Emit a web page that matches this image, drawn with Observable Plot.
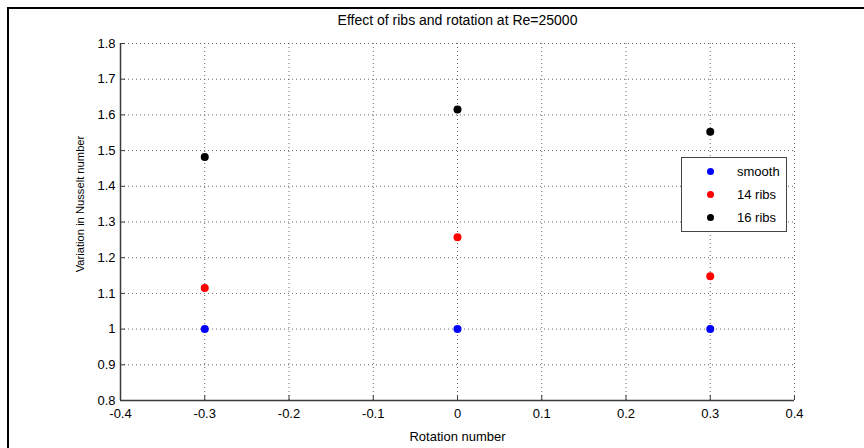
<!DOCTYPE html>
<html><head><meta charset="utf-8">
<script src="https://cdn.jsdelivr.net/npm/d3@7"></script>
<script src="https://cdn.jsdelivr.net/npm/@observablehq/plot@0.6"></script>
<style>
body{margin:0;background:#fff;}
#wrap{position:relative;width:864px;height:448px;overflow:hidden;font-family:"Liberation Sans",Arial,sans-serif;background:#fff;}
#wrap svg{position:absolute;left:0;top:0;}
#frame{position:absolute;left:7px;top:7px;width:900px;height:500px;border-top:2px solid #000;border-left:2px solid #000;}
#legend{position:absolute;left:681px;top:157px;width:104px;height:73px;border:1.5px solid #444;background:#fff;font-size:13px;color:#000;}
.row{position:absolute;left:0;height:15px;line-height:15px;}
.dot{position:absolute;left:25px;top:4px;width:7px;height:7px;border-radius:50%;}
.lab{position:absolute;left:55px;top:0;white-space:nowrap;}
</style></head>
<body><div id="wrap"></div>
<script>
const rotation = [-0.3, 0, 0.3];
const smooth = [1.0, 1.0, 1.0];
const ribs14 = [1.115, 1.257, 1.148];
const ribs16 = [1.482, 1.615, 1.553];
const seriesNames = ["smooth", "14 ribs", "16 ribs"];
const seriesColors = ["#0000ff", "#ff0000", "#000000"];
const xTicks = [-0.4, -0.3, -0.2, -0.1, 0, 0.1, 0.2, 0.3, 0.4];
const xTickLabels = ["-0.4", "-0.3", "-0.2", "-0.1", "0", "0.1", "0.2", "0.3", "0.4"];
const yTicks = [0.8, 0.9, 1.0, 1.1, 1.2, 1.3, 1.4, 1.5, 1.6, 1.7, 1.8];
const yTickLabels = ["0.8", "0.9", "1", "1.1", "1.2", "1.3", "1.4", "1.5", "1.6", "1.7", "1.8"];
const titleText = "Effect of ribs and rotation at Re=25000";
const xLabel = "Rotation number";
const yLabel = "Variation in Nusselt number";

const seriesValues = [smooth, ribs14, ribs16];
const points = [];
seriesValues.forEach((vals, s) => vals.forEach((v, i) => points.push({x: rotation[i], y: v, series: seriesNames[s]})));

const axisColor = "#3a3a3a";
const gridStyle = {stroke: "#555", strokeOpacity: 0.9, strokeDasharray: "1,3", strokeWidth: 1};

const chart = Plot.plot({
  width: 864,
  height: 448,
  marginLeft: 120,
  marginRight: 70,
  marginTop: 43,
  marginBottom: 48,
  style: {fontFamily: '"Liberation Sans", Arial, sans-serif', fontSize: "13px", background: "#fff", color: "#000"},
  x: {domain: [-0.4, 0.4]},
  y: {domain: [0.8, 1.8]},
  color: {domain: seriesNames, range: seriesColors},
  marks: [
    Plot.gridX(xTicks, gridStyle),
    Plot.gridY(yTicks, gridStyle),
    Plot.axisX({ticks: xTicks, tickSize: 0, tickPadding: 8, tickFormat: (d, i) => xTickLabels[i], label: null, fill: "#000", fontSize: 13}),
    Plot.axisX({ticks: xTicks, tickSize: 5, dy: -5, text: null, label: null, stroke: axisColor}),
    Plot.axisY({ticks: yTicks, tickSize: 0, tickPadding: 5, tickFormat: (d, i) => yTickLabels[i], label: null, fill: "#000", fontSize: 13}),
    Plot.axisY({ticks: yTicks, tickSize: 5, dx: 5, text: null, label: null, stroke: axisColor}),
    Plot.ruleX([-0.4], {stroke: axisColor, strokeWidth: 1.5}),
    Plot.ruleY([0.8], {stroke: axisColor, strokeWidth: 1.5}),
    Plot.dot(points, {x: "x", y: "y", fill: "series", r: 4, stroke: null}),
    Plot.text([titleText], {text: d => d, frameAnchor: "top", textAnchor: "middle", lineAnchor: "middle", dy: -23, fontSize: 14, fill: "#000"}),
    Plot.text([xLabel], {text: d => d, frameAnchor: "bottom", textAnchor: "middle", lineAnchor: "middle", dy: 36, fontSize: 13, fill: "#000"}),
    Plot.text([yLabel], {text: d => d, frameAnchor: "left", textAnchor: "middle", lineAnchor: "middle", dx: -40, dy: -18, rotate: -90, fontSize: 11.2, fill: "#000"})
  ]
});
const wrap = document.getElementById("wrap");
wrap.appendChild(chart);
const frame = document.createElement("div");
frame.id = "frame";
wrap.appendChild(frame);
const legend = document.createElement("div");
legend.id = "legend";
seriesNames.forEach((name, i) => {
  const row = document.createElement("div");
  row.className = "row";
  row.style.top = (6 + i * 23) + "px";
  row.style.width = "100%";
  const dot = document.createElement("div");
  dot.className = "dot";
  dot.style.background = seriesColors[i];
  const lab = document.createElement("div");
  lab.className = "lab";
  lab.textContent = name;
  row.appendChild(dot);
  row.appendChild(lab);
  legend.appendChild(row);
});
wrap.appendChild(legend);
</script>
</body></html>
